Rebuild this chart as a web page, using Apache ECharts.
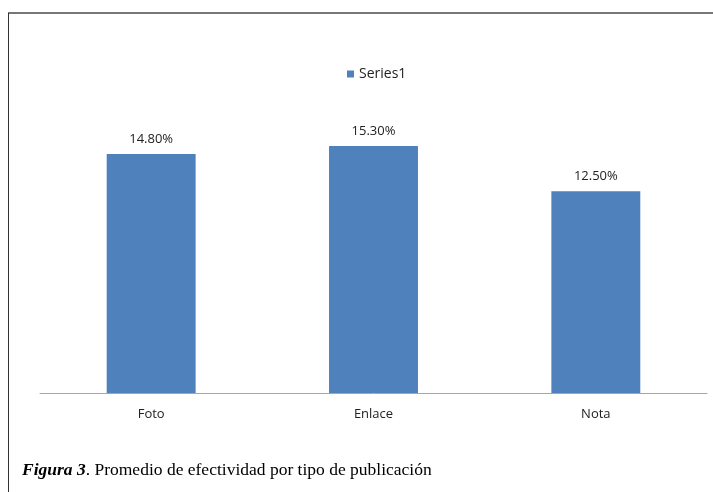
<!DOCTYPE html>
<html>
<head>
<meta charset="utf-8">
<script src="https://cdn.jsdelivr.net/npm/echarts@6/dist/echarts.min.js"></script>
<style>html,body{margin:0;padding:0;background:#fff}#c{width:713px;height:492px}</style>
</head>
<body>
<div id="c"></div>
<script>
var categories = ['Foto', 'Enlace', 'Nota'];
var seriesName = 'Series1';
var values = [14.8, 15.3, 12.5];
var captionBold = 'Figura 3';
var captionRest = '. Promedio de efectividad por tipo de publicación';

var chart = echarts.init(document.getElementById('c'), null, {renderer: 'canvas'});
chart.setOption({
  animation: false,
  backgroundColor: '#ffffff',
  legend: {
    data: [seriesName],
    top: 62,
    left: 342,
    itemWidth: 7,
    itemHeight: 7,
    itemGap: 5,
    icon: 'rect',
    textStyle: {fontFamily: 'Open Sans', fontSize: 14, color: '#222'}
  },
  grid: {left: 40, right: 6, top: 70, bottom: 99, containLabel: false},
  xAxis: {
    type: 'category',
    data: categories,
    axisLine: {lineStyle: {color: '#a6a6a6', width: 1}},
    axisTick: {show: false},
    axisLabel: {margin: 15, fontFamily: 'Open Sans', fontSize: 13, color: '#222'}
  },
  yAxis: {
    type: 'value', min: 0, max: 20, show: false,
    splitLine: {show: false}
  },
  series: [{
    name: seriesName,
    type: 'bar',
    data: values,
    barWidth: '40%',
    itemStyle: {color: '#4F81BD'},
    label: {
      show: true, position: 'top', distance: 8,
      formatter: function (p) { return p.value.toFixed(2) + '%'; },
      fontFamily: 'Open Sans', fontSize: 13, color: '#222'
    }
  }],
  graphic: [
    {type: 'line', shape: {x1: 8, y1: 13, x2: 713, y2: 13}, style: {stroke: '#777', lineWidth: 2}},
    {type: 'line', shape: {x1: 8.5, y1: 13, x2: 8.5, y2: 492}, style: {stroke: '#333', lineWidth: 1}},
    {
      type: 'text', left: 22, top: 461,
      style: {
        text: '{b|' + captionBold + '}{r|' + captionRest + '}',
        rich: {
          b: {fontFamily: 'Liberation Serif', fontSize: 17.5, fontWeight: 'bold', fontStyle: 'italic', fill: '#000'},
          r: {fontFamily: 'Liberation Serif', fontSize: 17.5, fill: '#000'}
        }
      }
    }
  ]
});
</script>
</body>
</html>
